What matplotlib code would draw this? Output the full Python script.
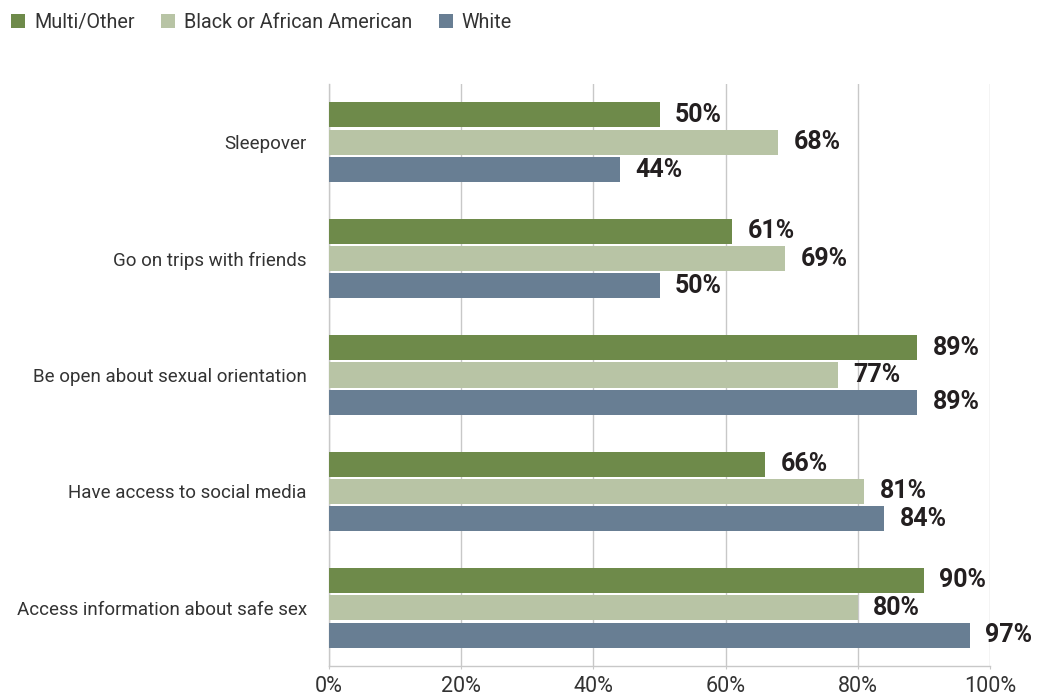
import matplotlib
matplotlib.use("Agg")
import matplotlib.pyplot as plt
import numpy as np

categories = ["Sleepover", "Go on trips with friends", "Be open about sexual orientation",
              "Have access to social media", "Access information about safe sex"]
series_names = ["Multi/Other", "Black or African American", "White"]
multi = [50, 61, 89, 66, 90]
black = [68, 69, 77, 81, 80]
white = [44, 50, 89, 84, 97]
colors = ["#6E8A4A", "#B8C4A5", "#687E93"]
xticks = [0, 20, 40, 60, 80, 100]
xticklabels = ["0%", "20%", "40%", "60%", "80%", "100%"]

plt.rcParams['font.family'] = ['Roboto', 'DejaVu Sans']

fig = plt.figure(figsize=(10.49, 6.96), dpi=100)
ax = fig.add_axes([329/1049, 30/696, (990-329)/1049, (666-84)/696])

y = np.arange(len(categories))
h = 0.215
offs = [-0.235, 0.0, 0.235]
for vals, off, col, name in zip([multi, black, white], offs, colors, series_names):
    ax.barh(y + off, vals, height=h, color=col, label=name, zorder=3)
    for yy, v in zip(y + off, vals):
        ax.text(v + 2.3, yy, f"{v}%", va="center", ha="left", fontsize=18,
                fontweight="bold", color="#231F20", zorder=4)

ax.set_ylim(len(categories) - 0.5, -0.5)
ax.set_xlim(0, 100)
ax.set_yticks(y)
ax.set_yticklabels(categories, fontsize=13.5, color="#333333")
ax.set_xticks(xticks)
ax.set_xticklabels(xticklabels, fontsize=15.5, color="#333333")
ax.tick_params(axis="y", length=0, pad=16)
ax.tick_params(axis="x", length=2, color="#C8C8C8", pad=5)
ax.grid(axis="x", color="#C8C8C8", linewidth=1, zorder=0)
for s in ["top", "right"]:
    ax.spines[s].set_visible(False)
for s in ["left", "bottom"]:
    ax.spines[s].set_color("#C8C8C8")
    ax.spines[s].set_linewidth(1)

leg = fig.legend(loc="upper left", bbox_to_anchor=(-0.006, 1.007), ncol=3, frameon=False,
                 fontsize=14.2, handlelength=0.7, handleheight=0.7, handletextpad=0.45,
                 columnspacing=1.35)
for t in leg.get_texts():
    t.set_color("#333333")

fig.savefig("out.png", dpi=100)
